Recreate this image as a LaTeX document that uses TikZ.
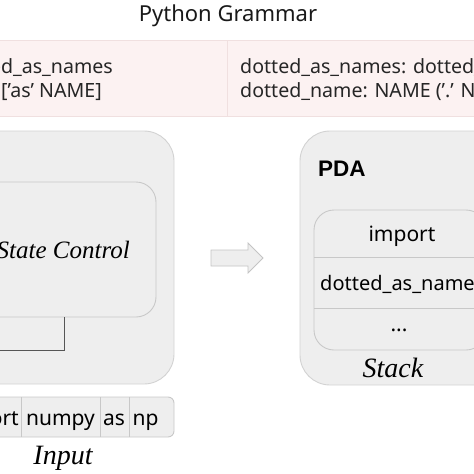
\documentclass[tikz,border=0pt]{standalone}
\usepackage{fontspec}
\setmainfont{Noto Sans}
\newfontfamily\serifit{Liberation Serif}
\newfontfamily\pdafont{Liberation Sans}
\definecolor{tablefill}{HTML}{FCF2F2}
\definecolor{tableline}{HTML}{F0E0E0}
\definecolor{boxfill}{HTML}{EEEEEE}
\definecolor{boxline}{HTML}{D2D2D2}
\definecolor{innerline}{HTML}{C8C8C8}
\definecolor{headline}{HTML}{555555}
\definecolor{arrowfill}{HTML}{EEEEEE}
\definecolor{arrowline}{HTML}{C4C4C4}
\tikzset{
  cell/.style={draw=tableline, fill=tablefill, line width=0.8pt, minimum height=76pt, inner sep=0pt},
  bigbox/.style={draw=boxline, fill=boxfill, line width=0.9pt, rounded corners=30pt, inner sep=0pt},
  innerbox/.style={draw=innerline, fill=boxfill, line width=0.9pt, rounded corners=20pt, inner sep=0pt},
  tape/.style={draw=innerline, fill=boxfill, line width=0.9pt, rounded corners=6pt, inner sep=0pt},
  divider/.style={draw=innerline, line width=0.9pt},
  sanstxt/.style={font=\fontsize{21}{24}\selectfont, text=black, inner sep=0pt, anchor=base},
  gramtxt/.style={font=\fontsize{19.6}{22}\selectfont, text=black!85, inner sep=0pt, anchor=base west},
  itxt/.style={font=\serifit\itshape\fontsize{28}{30}\selectfont, text=black, inner sep=0pt, anchor=base},
}
\begin{document}
\begin{tikzpicture}[x=1pt,y=-1pt]
\useasboundingbox (0,0) rectangle (474,474);
\clip (0,0) rectangle (474,474);
% title
\node[font=\fontsize{22}{24}\selectfont, text=black!90, inner sep=0pt, anchor=base] (title) at (228,21) {Python Grammar};
% grammar table
\node[cell, minimum width=247pt] (lcell) at (103.5,78) {};
\node[cell, minimum width=263pt] (rcell) at (358.5,78) {};
\node[gramtxt, anchor=base east] (g1) at (113,73) {import\_name: 'import' dotted\_as\_names};
\node[gramtxt, anchor=base west] (g2) at (1,97) {['as' NAME]};
\node[gramtxt] (g3) at (240,73) {dotted\_as\_names: dotted\_as\_name (',' dotted\_as\_name)*};
\node[gramtxt] (g4) at (240,97) {dotted\_name: NAME ('.' NAME)*};
% left machine
\node[bigbox, minimum width=254pt, minimum height=253pt] (fsm) at (47,257.5) {};
\node[innerbox, minimum width=216pt, minimum height=135pt] (state) at (48,249.5) {};
\node[itxt, font=\serifit\itshape\fontsize{25}{28}\selectfont, anchor=base east] (statetxt) at (130,258) {Finite State Control};
\coordinate (h1) at (64,317);
\coordinate (h2) at (64,350);
\coordinate (h3) at (-20,350);
\draw[headline, line width=0.9pt] (h1) -- (h2) -- (h3);
% input tape
\node[tape, minimum width=234pt, minimum height=40pt] (tapebox) at (57,417) {};
\coordinate (d1t) at (21,397); \coordinate (d1b) at (21,437);
\coordinate (d2t) at (100,397); \coordinate (d2b) at (100,437);
\coordinate (d3t) at (129,397); \coordinate (d3b) at (129,437);
\draw[divider] (d1t) -- (d1b);
\draw[divider] (d2t) -- (d2b);
\draw[divider] (d3t) -- (d3b);
\node[sanstxt, anchor=base east] (w1) at (19,425) {import};
\node[sanstxt] (w2) at (60.5,425) {numpy};
\node[sanstxt] (w3) at (114,425) {as};
\node[sanstxt] (w4) at (145.5,425) {np};
\node[itxt] (inputlbl) at (63,464) {Input};
% arrow
\draw[draw=arrowline, fill=arrowfill, line width=0.8pt]
  (211,250) -- (248,250) -- (248,243) -- (263,258) -- (248,273) -- (248,266) -- (211,266) -- cycle;
% PDA
\node[bigbox, minimum width=240pt, minimum height=254pt] (pda) at (420,258) {};
\node[font=\pdafont\bfseries\fontsize{22.5}{26}\selectfont, inner sep=0pt, anchor=base west] (pdatxt) at (318,176) {PDA};
\node[innerbox, minimum width=172pt, minimum height=140pt] (stack) at (400,280) {};
\coordinate (s1l) at (314,257); \coordinate (s1r) at (486,257);
\coordinate (s2l) at (314,308); \coordinate (s2r) at (486,308);
\draw[divider] (s1l) -- (s1r);
\draw[divider] (s2l) -- (s2r);
\node[sanstxt] (e1) at (402,241) {import};
\node[sanstxt, font=\fontsize{20}{24}\selectfont, anchor=base west] (e2) at (320,290) {dotted\_as\_names};
\node[sanstxt] (e3) at (399,331) {...};
\node[itxt] (stacklbl) at (393,377) {Stack};
\end{tikzpicture}
\end{document}
